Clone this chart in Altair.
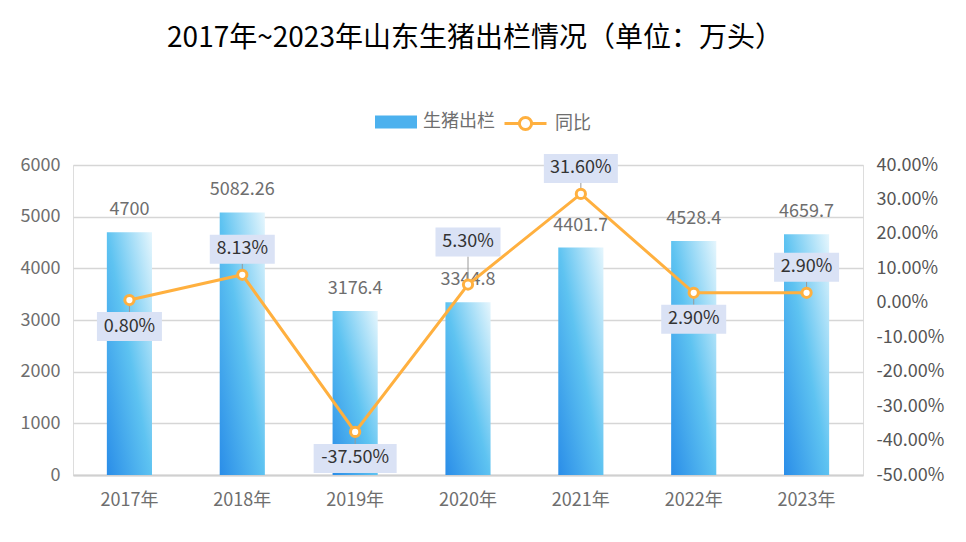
import altair as alt
import pandas as pd

years = ["2017年", "2018年", "2019年", "2020年", "2021年", "2022年", "2023年"]
output = [4700, 5082.26, 3176.4, 3344.8, 4401.7, 4528.4, 4659.7]
yoy_pct = [0.80, 8.13, -37.50, 5.30, 31.60, 2.90, 2.90]
label_place = ["below", "above", "below", "high", "above", "below", "above"]
left_ticks = [0, 1000, 2000, 3000, 4000, 5000, 6000]
right_ticks = [i / 10 for i in range(-5, 5)]

FONT = "Noto Sans CJK SC"
BAR_NAME = "生猪出栏"
LINE_NAME = "同比"

df = pd.DataFrame({
    "year": years,
    "output": output,
    "output_label": [f"{v:g}" for v in output],
    "yoy": [v / 100 for v in yoy_pct],
    "yoy_label": [f"{v:.2f}%" for v in yoy_pct],
    "place": label_place,
    "s1": BAR_NAME,
    "s2": LINE_NAME,
})
df["boxw"] = df["yoy_label"].str.len() * 9 + 20

x = alt.X("year:N", sort=years, title=None,
          scale=alt.Scale(paddingInner=0.6, paddingOuter=0.3),
          axis=alt.Axis(labelAngle=0, ticks=False, domainColor="#d0d0d0", domainWidth=2,
                        labelPadding=16, labelFontSize=18, labelColor="#6e6e6e", labelFont=FONT))

yL = alt.Y("output:Q", title=None, stack=None,
           scale=alt.Scale(domain=[0, 6000], nice=False),
           axis=alt.Axis(values=left_ticks, orient="left", domain=False, ticks=False, format="d",
                         grid=True, gridColor="#d6d6d6", gridWidth=1.5, labelPadding=13,
                         labelFontSize=18, labelColor="#6e6e6e", labelFont=FONT))

yR = alt.Y("yoy:Q", title=None,
           scale=alt.Scale(domain=[-0.5, 0.4], nice=False),
           axis=alt.Axis(values=right_ticks, orient="right", domain=False, ticks=False, grid=False,
                         labelPadding=13, labelFontSize=18, labelColor="#555555", labelFont=FONT,
                         labelExpr="replace(format(datum.value, '.2%'), '\u2212', '-')"))

grad = alt.Gradient(
    gradient="linear",
    stops=[alt.GradientStop(color="#2a8de8", offset=0),
           alt.GradientStop(color="#5ec3f1", offset=0.5),
           alt.GradientStop(color="#e6f6fd", offset=1)],
    x1=0, y1=1, x2=1, y2=0,
)

base = alt.Chart(df)

bar_legend = base.mark_bar(opacity=0).encode(
    x=x, y=yL,
    color=alt.Color("s1:N", scale=alt.Scale(range=["#4cb1ee"]),
                    legend=alt.Legend(orient="none", legendX=302, legendY=-64, title=None,
                                      padding=0, symbolType="M-1,-0.31L1,-0.31L1,0.31L-1,0.31Z",
                                      symbolSize=1764, symbolOpacity=1, symbolStrokeWidth=0,
                                      labelFontSize=18, labelColor="#6e6e6e", labelFont=FONT,
                                      labelOffset=6)),
)
bars = base.mark_bar(fill=grad).encode(x=x, y=yL)
bar_text = base.mark_text(baseline="middle", dy=-22, fontSize=18, color="#6e6e6e", font=FONT).encode(
    x=x, y=yL, text="output_label:N")

left_group = alt.layer(bar_legend, bars, bar_text)

ORANGE = "#ffb03f"
line = base.mark_line(strokeWidth=3).encode(
    x=x, y=yR,
    stroke=alt.Stroke("s2:N", scale=alt.Scale(range=[ORANGE]),
                      legend=alt.Legend(orient="none", legendX=430, legendY=-64, title=None,
                                        padding=0,
                                        symbolType="M-1,0L-0.29,0M0.29,0L1,0M0.29,0A0.29,0.29,0,1,1,-0.29,0A0.29,0.29,0,1,1,0.29,0Z",
                                        symbolSize=1764, symbolStrokeWidth=3, symbolFillColor="white",
                                        labelFontSize=18, labelColor="#6e6e6e", labelFont=FONT,
                                        labelOffset=7)),
)

placements = {
    "above": (-40, -11, -25.5),
    "below": (12, 41, 26.5),
    "high": (-57, -28, -42.5),
}

rules, boxes, texts = [], [], []
for place, (top, bottom, center) in placements.items():
    sub = base.transform_filter(alt.datum.place == place)
    edge = bottom if top < 0 else top
    rules.append(sub.mark_rule(color="#9a9a9a", strokeWidth=1, y2Offset=edge).encode(
        x=x, y=yR, y2="yoy:Q"))
    boxes.append(sub.mark_bar(color="#dae2f5", yOffset=top, y2Offset=bottom).encode(
        x=x, y=yR, y2="yoy:Q", size=alt.Size("boxw:Q", scale=None)))
    texts.append(sub.mark_text(baseline="middle", dy=center, fontSize=18, color="#333333", font=FONT).encode(
        x=x, y=yR, text="yoy_label:N"))

points = base.mark_point(filled=True, fill="white", stroke=ORANGE, strokeWidth=3, size=85, opacity=1).encode(
    x=x, y=yR)

right_group = alt.layer(line, *rules, points, *boxes, *texts)

chart = alt.layer(left_group, right_group).resolve_scale(y="independent").properties(
    width=790, height=310,
    autosize=alt.AutoSizeParams(type="none"),
    padding={"left": 65, "top": 157, "right": 95, "bottom": 59},
    title=alt.TitleParams("2017年~2023年山东生猪出栏情况（单位：万头）", fontSize=28, font=FONT,
                          fontWeight="normal", color="#000000", anchor="middle", baseline="bottom",
                          offset=20, dx=7),
).configure_view(stroke=None).configure(background="white")

chart.save("out.html", embed_options={"renderer": "svg", "actions": False})
